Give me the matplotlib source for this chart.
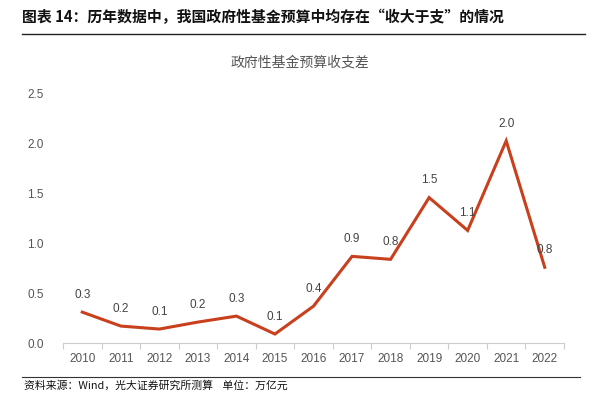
import matplotlib
matplotlib.use("Agg")
import matplotlib.pyplot as plt

plt.rcParams['font.family'] = ['Noto Sans CJK SC', 'DejaVu Sans']

# data (万亿元)
years = ['2010', '2011', '2012', '2013', '2014', '2015', '2016',
         '2017', '2018', '2019', '2020', '2021', '2022']
gap = [0.31, 0.17, 0.14, 0.21, 0.27, 0.09, 0.37,
       0.87, 0.84, 1.46, 1.13, 2.03, 0.76]
yticks = [0.0, 0.5, 1.0, 1.5, 2.0, 2.5]

LINE_COLOR = '#C8401E'
TEXT_GRAY = '#555555'
NUM_FONT = ['Liberation Sans', 'Noto Sans CJK SC']

fig = plt.figure(figsize=(5.92, 3.97), dpi=100)

# header
fig.text(22/592, 1-17/397, '图表 14：历年数据中，我国政府性基金预算中均存在“收大于支”的情况',
         fontsize=10.7, fontweight='bold', color='#111111', va='center', ha='left')
fig.add_artist(plt.Line2D([22/592, 585/592], [1-34/397, 1-34/397],
                          color='#222222', lw=1.0))
fig.text(300/592, 1-63/397, '政府性基金预算收支差', fontsize=10, color=TEXT_GRAY,
         ha='center', va='center')

# plot area
ax = fig.add_axes([63/592, 1-343/397, (564-63)/592, (343-94)/397])
x = list(range(len(years)))
ax.plot(x, gap, color=LINE_COLOR, lw=2.2, solid_joinstyle='miter')

for xi, v in zip(x, gap):
    ax.annotate(f'{v:.1f}', (xi, v), xytext=(0, 8), textcoords='offset points',
                ha='center', va='bottom', fontsize=8.5, color='#444444',
                family=NUM_FONT)

ax.set_xlim(-0.5, len(years) - 0.5)
ax.set_ylim(0, 2.5)
ax.set_yticks(yticks)
ax.set_yticklabels([f'{t:.1f}' for t in yticks], family=NUM_FONT)
ax.set_xticks(x)
ax.set_xticklabels(years, family=NUM_FONT)
ax.set_xticks([i - 0.5 for i in range(len(years) + 1)], minor=True)

for side in ['top', 'right', 'left']:
    ax.spines[side].set_visible(False)
ax.spines['bottom'].set_color('#CCCCCC')
ax.spines['bottom'].set_linewidth(0.8)

ax.tick_params(axis='x', which='major', length=0, pad=7, labelsize=8.5,
               labelcolor=TEXT_GRAY)
ax.tick_params(axis='x', which='minor', length=4, color='#CCCCCC', width=0.8)
ax.tick_params(axis='y', length=0, pad=14, labelsize=8.5, labelcolor=TEXT_GRAY)

# footer
fig.add_artist(plt.Line2D([22/592, 580/592], [1-377/397, 1-377/397],
                          color='#333333', lw=0.8))
fig.text(24/592, 1-386/397, '资料来源：Wind，光大证券研究所测算    单位：万亿元',
         fontsize=7.8, color='#111111', ha='left', va='center')

fig.savefig('out.png', dpi=100)
